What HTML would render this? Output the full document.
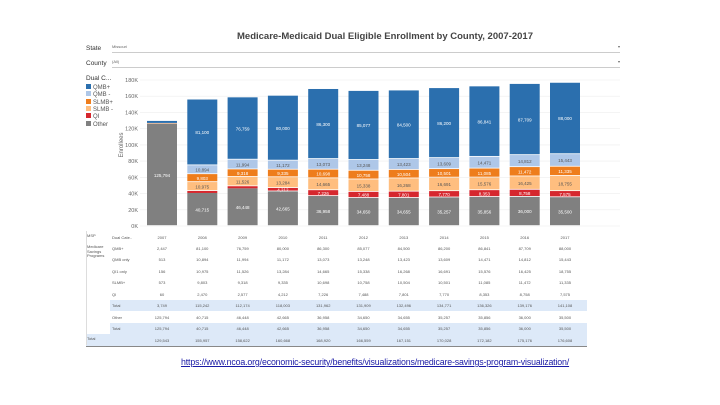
<!DOCTYPE html>
<html><head><meta charset="utf-8">
<style>
body{margin:0;background:#fff;font-family:"Liberation Sans",sans-serif;}
#wrap{position:relative;width:720px;height:405px;overflow:hidden;}
.t{position:absolute;white-space:nowrap;}
</style></head>
<body>
<div id="wrap">
<div class="t" style="left:0;width:770px;text-align:center;top:31px;font-size:9.5px;font-weight:bold;color:#444;">Medicare-Medicaid Dual Eligible Enrollment by County, 2007-2017</div>
<div class="t" style="left:86px;top:45px;font-size:6.5px;color:#333;">State</div>
<div class="t" style="left:112px;top:44px;width:508px;height:8px;border-bottom:1px solid #ccc;font-size:4px;color:#666;">Missouri<span style="float:right">▾</span></div>
<div class="t" style="left:86px;top:60px;font-size:6.5px;color:#333;">County</div>
<div class="t" style="left:112px;top:59px;width:508px;height:8px;border-bottom:1px solid #ccc;font-size:4px;color:#666;">(All)<span style="float:right">▾</span></div>
<div class="t" style="left:86px;top:75px;font-size:6.5px;color:#333;">Dual C...</div>
<div id="legend"></div>
<svg id="chart" width="720" height="405" style="position:absolute;left:0;top:0"></svg>
<div id="table"></div>
<a class="t" style="left:181px;top:357px;font-size:8.8px;color:#1a1aa6;text-decoration:underline;letter-spacing:-0.15px;">https://www.ncoa.org/economic-security/benefits/visualizations/medicare-savings-program-visualization/</a>
</div>
<script>
const years=["2007","2008","2009","2010","2011","2012","2013","2014","2015","2016","2017"];
const other=[125794,40715,46448,42665,36958,34650,34655,35257,35856,36000,35500];
const qi=[60,2470,2577,4212,7226,7488,7801,7770,8353,8758,7575];
const slmbMinus=[156,10975,11526,13284,14665,15338,16268,16691,15576,16425,18755];
const slmbPlus=[573,9803,9318,9335,10698,10758,10504,10501,11085,11472,11335];
const qmbMinus=[513,10894,11994,11172,13073,13248,13423,13609,14471,14812,15443];
const qmbPlus=[2447,81100,76759,80000,86300,85077,84500,86200,86841,87709,88000];
const yTicks=[0,20000,40000,60000,80000,100000,120000,140000,160000,180000];
const seriesNames=["QMB+","QMB -","SLMB+","SLMB -","QI","Other"];
const colors=["#2b6fae","#aec7e8","#ee7d1c","#ffbe7f","#d6272e","#808080"];
const stackOrder=[other,qi,slmbMinus,slmbPlus,qmbMinus,qmbPlus];
const stackColors=["#808080","#d6272e","#ffbe7f","#ee7d1c","#aec7e8","#2b6fae"];
const ns="http://www.w3.org/2000/svg";
const svg=document.getElementById('chart');
const y0=226,yMax=180000,plotH=146;
function yS(v){return y0-v/yMax*plotH;}
function xS(i){return 147+i*40.3;}
const bw=30;
function mk(tag,attrs){const e=document.createElementNS(ns,tag);for(const k in attrs)e.setAttribute(k,attrs[k]);svg.appendChild(e);return e;}
yTicks.forEach(v=>{
 const g=mk('line',{x1:140,x2:620,y1:yS(v),y2:yS(v),stroke:'#eee','stroke-width':0.6});
 
 
 const t=mk('text',{x:138,y:yS(v)+2,'text-anchor':'end','font-size':5.5,fill:'#666'});
 t.textContent=(v/1000)+'K';
 
 
});
const yt=mk('text',{x:0,y:0,'font-size':6,fill:'#666','text-anchor':'middle',transform:'translate(123,145) rotate(-90)'});
yt.textContent='Enrollees';


years.forEach((yr,i)=>{
 let cum=0;
 stackOrder.forEach((s,k)=>{
  const v=s[i];
  const r=mk('rect',{x:xS(i),y:yS(cum+v),width:bw,height:Math.max(0,yS(cum)-yS(cum+v)-(v>3000?0.8:0)),fill:stackColors[k]});
  
  
  if(v>3000){
   const t=mk('text',{x:xS(i)+bw/2,y:(yS(cum)+yS(cum+v))/2+1.8,'text-anchor':'middle','font-size':4.5,fill:(k==2||k==4)?'#555':'#fff'});
   t.textContent=v.toLocaleString('en-US');
   
   
  }
  cum+=v;
 });
});
// legend
const leg=document.getElementById('legend');
seriesNames.forEach((n,i)=>{
 const d=document.createElement('div');
 d.className='t';
 d.style.cssText=`left:86px;top:${84+i*7.3}px;font-size:6px;color:#555;line-height:7px;`;
 d.innerHTML=`<span style="display:inline-block;width:5px;height:5px;background:${colors[i]};margin-right:2px"></span>${n}`;
 
 
 leg.appendChild(d);
});
// table
const tbl=document.getElementById('table');
const rowsDef=[
 ["MSP","Dual Cate..",years,false,true],
 ["Medicare Savings Programs","QMB+",qmbPlus,false],
 ["","QMB only",qmbMinus,false],
 ["","QI1 only",slmbMinus,false],
 ["","SLMB+",slmbPlus,false],
 ["","QI",qi,false],
 ["","Total",null,true],
 ["","Other",other,false],
 ["","Total",other,true],
 ["Total","",null,true]
];
const rowTop=[231,242,253.5,265,276.5,288,299.5,311,322.5,334];
const rh=11.5;
rowsDef.forEach((r,ri)=>{
 const top=rowTop[ri];
 const bg=document.createElement('div');
 bg.className='t';
 bg.style.cssText=`left:${ri==9?86:110}px;top:${top}px;width:${ri==9?501:477}px;height:${rh}px;background:${r[3]?'#dde9f8':'#fff'};border-bottom:${ri==0||ri==9?1:0.5}px solid ${ri==9?'#888':'#ddd'};`;
 
 
 tbl.appendChild(bg);
 const l=document.createElement('div');l.className='t';
 l.style.cssText=`left:87px;top:${top+3}px;font-size:4px;color:#555;white-space:normal;width:22px;line-height:4.5px;`;
 l.textContent=r[0];
 
 
 tbl.appendChild(l);
 const c=document.createElement('div');c.className='t';
 c.style.cssText=`left:112px;top:${top+3.5}px;font-size:4px;color:#555;`;
 c.textContent=r[1];
 
 
 tbl.appendChild(c);
 years.forEach((yr,i)=>{
  let v;
  if(ri==0)v=yr;
  else if(ri==6)v=(qmbPlus[i]+qmbMinus[i]+slmbMinus[i]+slmbPlus[i]+qi[i]).toLocaleString('en-US');
  else if(ri==9)v=stackOrder.reduce((a,s)=>a+s[i],0).toLocaleString('en-US');
  else v=r[2][i].toLocaleString('en-US');
  const d=document.createElement('div');d.className='t';
  d.style.cssText=`left:${xS(i)-5}px;width:40px;text-align:center;top:${top+3.5}px;font-size:4px;color:#555;`;
  d.textContent=v;
  
  
  tbl.appendChild(d);
 });
});
const vl=document.createElement('div');vl.className='t';
vl.style.cssText='left:86px;top:231px;width:501px;height:114px;border-left:0.5px solid #ddd;';


tbl.appendChild(vl);
</script>
</body></html>
